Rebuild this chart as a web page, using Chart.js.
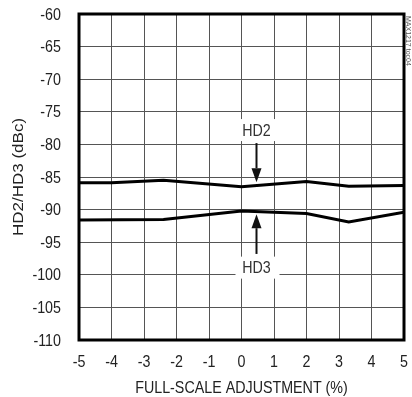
<!DOCTYPE html>
<html>
<head>
<meta charset="utf-8">
<script src="https://cdn.jsdelivr.net/npm/chart.js@4.4.0/dist/chart.umd.min.js"></script>
<style>
  html, body { margin: 0; padding: 0; background: #fff; }
  #wrap { width: 412px; height: 397px; position: relative; }
</style>
</head>
<body>
<div id="wrap"><canvas id="chart"></canvas></div>
<script>
// Full-scale adjustment (%) and measured distortion (dBc)
const hd2X = [-5, -4, -2.4, 0, 2, 3.3, 5];
const hd2Y = [-85.9, -85.9, -85.5, -86.5, -85.7, -86.4, -86.3];
const hd3X = [-5, -2.4, 0, 2, 3.3, 5];
const hd3Y = [-91.6, -91.5, -90.2, -90.6, -91.9, -90.4];

const xTicks = [-5, -4, -3, -2, -1, 0, 1, 2, 3, 4, 5];
const yTicks = [-110, -105, -100, -95, -90, -85, -80, -75, -70, -65, -60];

const xTitle = 'FULL-SCALE ADJUSTMENT (%)';
const yTitle = 'HD2/HD3 (dBc)';

// Callout labels with arrows pointing at each trace
const callouts = [
  { text: 'HD2', x: 0.45, labelY: -77.8, from: -79.8, to: -85.8 },
  { text: 'HD3', x: 0.45, labelY: -98.9, from: -96.8, to: -90.7 }
];

const FONT = '17px "Liberation Sans", Arial, sans-serif';
const SQUEEZE = 0.84; // narrow the glyphs to a condensed look

const toPoints = (xs, ys) => xs.map((x, i) => ({ x, y: ys[i] }));

// draw text squeezed horizontally around (x, y)
function narrowText(ctx, text, x, y, align) {
  ctx.save();
  ctx.translate(x, y);
  ctx.scale(SQUEEZE, 1);
  ctx.textAlign = align || 'center';
  ctx.fillText(text, 0, 0);
  ctx.restore();
}

const labelPlugin = {
  id: 'labels',
  afterDatasetsDraw(chart) {
    const { ctx, scales: { x, y } } = chart;
    ctx.save();
    ctx.font = FONT;
    ctx.textBaseline = 'middle';
    callouts.forEach(c => {
      const px = Math.round(x.getPixelForValue(c.x)) + 0.5;
      const ly = y.getPixelForValue(c.labelY);
      // white box behind the label hides the grid
      ctx.fillStyle = '#fff';
      ctx.fillRect(px - 21, ly - 11, 44, 22);
      ctx.fillStyle = '#333';
      narrowText(ctx, c.text, px, ly + 1);
      // arrow shaft and head
      const y0 = y.getPixelForValue(c.from);
      const y1 = y.getPixelForValue(c.to);
      const dir = y1 > y0 ? 1 : -1;
      const head = 14;
      ctx.strokeStyle = '#111';
      ctx.lineWidth = 2;
      ctx.beginPath();
      ctx.moveTo(px, y0);
      ctx.lineTo(px, y1 - dir * head);
      ctx.stroke();
      ctx.fillStyle = '#111';
      ctx.beginPath();
      ctx.moveTo(px, y1);
      ctx.lineTo(px - 5, y1 - dir * head);
      ctx.lineTo(px + 5, y1 - dir * head);
      ctx.closePath();
      ctx.fill();
    });
    ctx.restore();
  },
  afterDraw(chart) {
    const { ctx, chartArea: a, scales: { x, y } } = chart;
    ctx.save();
    // heavy frame round the plot
    ctx.strokeStyle = '#000';
    ctx.lineWidth = 3;
    ctx.strokeRect(a.left, a.top, a.right - a.left, a.bottom - a.top);

    // tick labels and axis titles
    ctx.font = FONT;
    ctx.fillStyle = '#222';
    ctx.textBaseline = 'middle';
    yTicks.forEach(v => narrowText(ctx, String(v), a.left - 18, y.getPixelForValue(v) + 1, 'right'));
    xTicks.forEach(v => narrowText(ctx, String(v), x.getPixelForValue(v), a.bottom + 22, 'center'));
    narrowText(ctx, xTitle, (a.left + a.right) / 2, a.bottom + 48, 'center');
    ctx.save();
    ctx.translate(19, (a.top + a.bottom) / 2);
    ctx.rotate(-Math.PI / 2);
    ctx.scale(1, SQUEEZE);
    ctx.textAlign = 'center';
    ctx.fillText(yTitle, 0, 0);
    ctx.restore();

    // part number tag, rotated in the top-right corner
    ctx.translate(408, 16);
    ctx.rotate(Math.PI / 2);
    ctx.font = '7px "Liberation Sans", Arial, sans-serif';
    ctx.fillStyle = '#555';
    ctx.textAlign = 'left';
    ctx.fillText('MAX1217 toc04', 0, 0);
    ctx.restore();
  }
};

new Chart(document.getElementById('chart'), {
  type: 'line',
  data: {
    datasets: [
      { label: 'HD2', data: toPoints(hd2X, hd2Y) },
      { label: 'HD3', data: toPoints(hd3X, hd3Y) }
    ]
  },
  options: {
    responsive: true,
    maintainAspectRatio: false,
    animation: false,
    devicePixelRatio: 1,
    layout: { padding: { left: 0, right: 8, top: 14, bottom: 0 } },
    elements: {
      line: { borderColor: '#000', borderWidth: 3, tension: 0 },
      point: { radius: 0 }
    },
    plugins: { legend: { display: false }, tooltip: { enabled: false } },
    scales: {
      x: {
        type: 'linear',
        min: -5, max: 5,
        afterBuildTicks: s => { s.ticks = xTicks.map(v => ({ value: v })); },
        afterFit: s => { s.height = 57; },
        grid: { color: '#555', lineWidth: 1, drawTicks: false },
        border: { display: false },
        ticks: { display: false }
      },
      y: {
        type: 'linear',
        min: -110, max: -60,
        afterBuildTicks: s => { s.ticks = yTicks.map(v => ({ value: v })); },
        afterFit: s => { s.width = 79; },
        grid: { color: '#555', lineWidth: 1, drawTicks: false },
        border: { display: false },
        ticks: { display: false }
      }
    }
  },
  plugins: [labelPlugin]
});
</script>
</body>
</html>
